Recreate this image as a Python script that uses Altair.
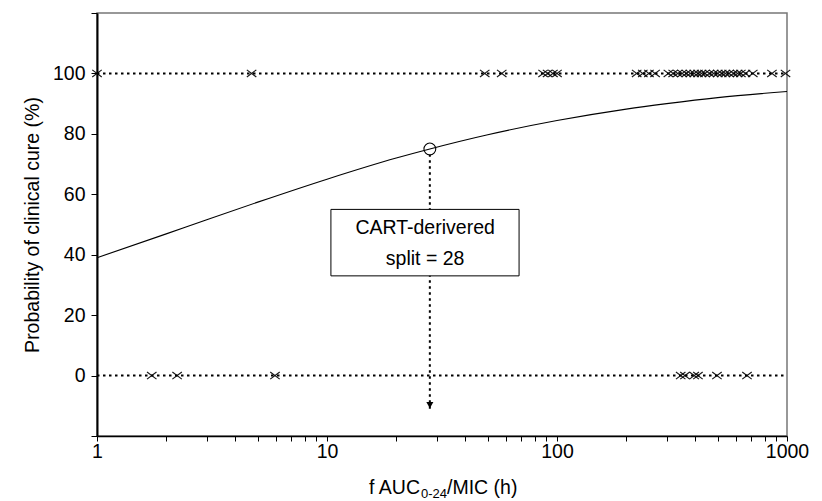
import altair as alt
import pandas as pd

# --- data ---
cure_x = [1, 4.7, 48.5, 57.5, 87, 91, 96, 100, 222, 236, 251, 267, 305, 320, 335,
          350, 365, 380, 395, 410, 425, 440, 460, 480, 500, 520, 540, 560, 585,
          610, 630, 660, 710, 860, 985]
fail_x = [1.73, 2.23, 5.94, 345, 360, 395, 410, 496, 670]

curve_x = [1, 2, 3, 5, 10, 20, 28, 50, 100, 200, 300, 500, 1000]
curve_y = [39, 46.9, 51.6, 57.4, 65, 72, 75, 79.7, 84.4, 88.2, 90, 92, 94]

split_x = 28
split_y = 75

x_ticks = [1, 2, 3, 4, 5, 6, 7, 8, 9, 10, 20, 30, 40, 50, 60, 70, 80, 90,
           100, 200, 300, 400, 500, 600, 700, 800, 900, 1000]
y_ticks = [-20, 0, 20, 40, 60, 80, 100, 120]

FONT = "Liberation Sans"
FS = 19.5

obs = pd.DataFrame({
    "x": cure_x + fail_x,
    "y": [100] * len(cure_x) + [0] * len(fail_x),
})
curve = pd.DataFrame({"x": curve_x, "y": curve_y})
hlines = pd.DataFrame({"x": [1, 1], "x2": [1000, 1000], "y": [100, 0]})
split = pd.DataFrame({"x": [split_x], "y": [split_y]})

xs = alt.Scale(type="log", domain=[1, 1000], nice=False)
ys = alt.Scale(domain=[-20, 120], nice=False, zero=False)

xax = alt.Axis(
    values=x_ticks,
    labelExpr="indexof([1,10,100,1000], datum.value) >= 0 ? datum.label : ''",
    format="d", grid=False, title=None,
    domainColor="black", domainWidth=1.5, tickColor="black", tickSize=5,
    labelFont=FONT, labelFontSize=FS, labelColor="black", labelPadding=1,
    labelFlush=False, labelOverlap=False,
)
yax = alt.Axis(
    values=y_ticks,
    labelExpr="datum.value >= 0 && datum.value <= 100 ? datum.label : ''",
    grid=False, title="Probability of clinical cure (%)",
    domainColor="black", domainWidth=2, tickColor="black", tickSize=6,
    labelFont=FONT, labelFontSize=FS, labelColor="black", labelPadding=6,
    titleFont=FONT, titleFontSize=FS, titleFontWeight="normal", titleColor="black",
    titlePadding=10,
)

base_x = alt.X("x:Q", scale=xs, axis=xax)
base_y = alt.Y("y:Q", scale=ys, axis=yax)

DOT = [2.5, 3.5]

h = alt.Chart(hlines).mark_rule(color="black", strokeDash=DOT, strokeWidth=2).encode(
    x=base_x, x2="x2:Q", y=base_y)

line = alt.Chart(curve).mark_line(color="black", strokeWidth=1.1, interpolate="monotone").encode(
    x=alt.X("x:Q", scale=xs), y=alt.Y("y:Q", scale=ys))

vline = alt.Chart(pd.DataFrame({"x": [split_x], "y": [-11], "y2": [split_y - 2]})).mark_rule(
    color="black", strokeDash=DOT, strokeWidth=2).encode(
    x=alt.X("x:Q", scale=xs), y=alt.Y("y:Q", scale=ys), y2="y2:Q")

box = alt.Chart(pd.DataFrame({"x": [10.4], "x2": [68.4], "y": [33], "y2": [55]})).mark_rect(
    fill="white", stroke="black", strokeWidth=1).encode(
    x=alt.X("x:Q", scale=xs), x2="x2:Q", y=alt.Y("y:Q", scale=ys), y2="y2:Q")

box_text = alt.Chart(pd.DataFrame({"x": [26.7, 26.7], "y": [48.8, 38.6],
                                   "t": ["CART-derivered", "split = 28"]})).mark_text(
    font=FONT, fontSize=FS, color="black", baseline="middle", align="center").encode(
    x=alt.X("x:Q", scale=xs), y=alt.Y("y:Q", scale=ys), text="t:N")

circle = alt.Chart(split).mark_point(shape="circle", size=140, filled=False,
                                     color="black", strokeWidth=1.1, opacity=1).encode(
    x=alt.X("x:Q", scale=xs), y=alt.Y("y:Q", scale=ys))

arrow = alt.Chart(pd.DataFrame({"x": [split_x], "y": [-9.8]})).mark_point(
    shape="triangle-down", size=50, filled=True, color="black", opacity=1).encode(
    x=alt.X("x:Q", scale=xs), y=alt.Y("y:Q", scale=ys))

marks = alt.Chart(obs).mark_point(
    shape="M-1,-0.75L1,0.75M-1,0.75L1,-0.75", size=90, filled=False,
    color="black", strokeWidth=1.2, opacity=0.9).encode(
    x=alt.X("x:Q", scale=xs), y=alt.Y("y:Q", scale=ys))

# x-axis title with subscript, composed of three text pieces
TY = 475
t1 = alt.Chart(pd.DataFrame({"t": ["f AUC"]})).mark_text(
    font=FONT, fontSize=FS, color="black", align="right", baseline="middle").encode(
    x=alt.value(323), y=alt.value(TY), text="t:N")
t2 = alt.Chart(pd.DataFrame({"t": ["0-24"]})).mark_text(
    font=FONT, fontSize=13, color="black", align="left", baseline="middle").encode(
    x=alt.value(324), y=alt.value(TY + 6), text="t:N")
t3 = alt.Chart(pd.DataFrame({"t": ["/MIC (h)"]})).mark_text(
    font=FONT, fontSize=FS, color="black", align="left", baseline="middle").encode(
    x=alt.value(350), y=alt.value(TY), text="t:N")

chart = alt.layer(h, line, vline, box, box_text, circle, marks, arrow, t1, t2, t3).properties(
    width=690, height=423,
    autosize=alt.AutoSizeParams(type="none"),
    padding={"left": 97, "top": 13, "right": 35, "bottom": 65},
    background="white",
).configure_view(stroke="#777", strokeWidth=1.5)

chart.save("out.html", embed_options={"renderer": "svg", "actions": False})
